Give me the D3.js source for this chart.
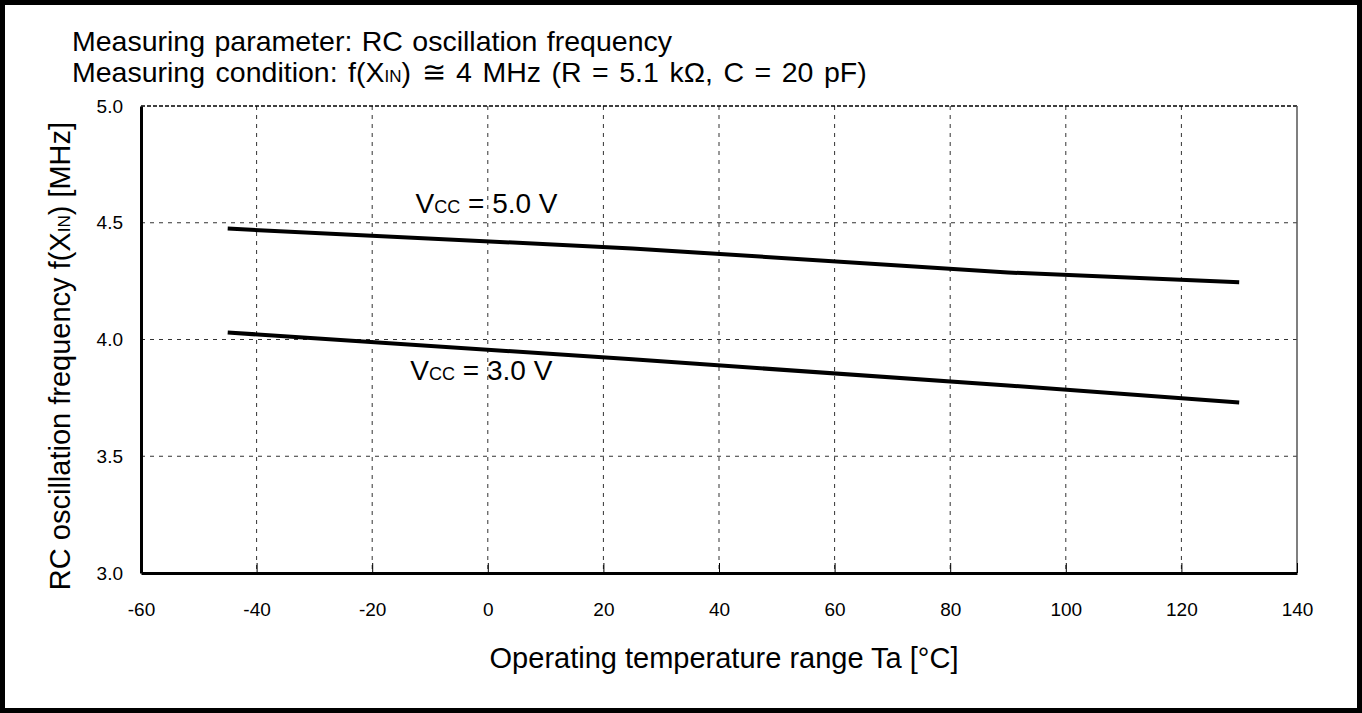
<!DOCTYPE html>
<html><head><meta charset="utf-8">
<script src="https://cdn.jsdelivr.net/npm/d3@7"></script>
<style>body{margin:0;background:#fff;} svg{display:block;} text{font-family:"Liberation Sans",Arial,sans-serif;fill:#000;}</style>
</head><body>
<svg id="c" width="1362" height="713"></svg>
<script>
const xTicks = [-60,-40,-20,0,20,40,60,80,100,120,140];
const yTicks = [3.0,3.5,4.0,4.5,5.0];
const tempsVcc5 = [-45,25,90,130];
const freqVcc5 = [4.475,4.39,4.287,4.245];
const tempsVcc3 = [-45,25,90,130];
const freqVcc3 = [4.03,3.915,3.803,3.73];

const svg = d3.select("#c");
const W=1362,H=713;
svg.append("rect").attr("x",2.5).attr("y",2.5).attr("width",W-5).attr("height",H-5)
  .attr("fill","#fff").attr("stroke","#000").attr("stroke-width",5);

const L=141,R=1297,T=106,B=573;
const x=d3.scaleLinear().domain([-60,140]).range([L,R]);
const y=d3.scaleLinear().domain([3,5]).range([B,T]);

const g=svg.append("g");
// grid
g.selectAll(".vg").data(xTicks.filter(d=>d>-60&&d<140)).join("line")
 .attr("x1",d=>x(d)).attr("x2",d=>x(d)).attr("y1",T).attr("y2",B)
 .attr("stroke","#333").attr("stroke-width",1).attr("stroke-dasharray","4,5");
g.selectAll(".hg").data(yTicks.filter(d=>d>3&&d<5)).join("line")
 .attr("x1",L).attr("x2",R).attr("y1",d=>y(d)).attr("y2",d=>y(d))
 .attr("stroke","#333").attr("stroke-width",1).attr("stroke-dasharray","4,5");
// top & right frame
g.append("line").attr("x1",L).attr("x2",R).attr("y1",T).attr("y2",T)
 .attr("stroke","#000").attr("stroke-width",1.5).attr("stroke-dasharray","4,2");
g.append("line").attr("x1",R).attr("x2",R).attr("y1",T).attr("y2",B)
 .attr("stroke","#555").attr("stroke-width",1.5);

const FF="Liberation Sans, Arial, sans-serif";
// axes
const xAxis=d3.axisBottom(x).tickValues(xTicks).tickSizeInner(-10).tickSizeOuter(0).tickPadding(30).tickFormat(d=>String(d));
const xg=svg.append("g").attr("transform",`translate(0,${B})`).call(xAxis);
xg.select(".domain").attr("stroke","#000").attr("stroke-width",3);
xg.selectAll(".tick line").attr("stroke","#000").attr("stroke-width",1);
xg.selectAll("text").attr("font-size",19).attr("font-family",FF).attr("fill","#000");

const yAxis=d3.axisLeft(y).tickValues(yTicks).tickSize(0).tickPadding(18).tickFormat(d3.format(".1f"));
const yg=svg.append("g").attr("transform",`translate(${L},0)`).call(yAxis);
yg.select(".domain").attr("stroke","#000").attr("stroke-width",3);
yg.selectAll("text").attr("font-size",19).attr("font-family",FF).attr("fill","#000");

// lines
const line=d3.line().x(d=>x(d[0])).y(d=>y(d[1]));
[[tempsVcc5,freqVcc5],[tempsVcc3,freqVcc3]].forEach(([t,f])=>{
  svg.append("path").datum(t.map((d,i)=>[d,f[i]])).attr("d",line)
   .attr("fill","none").attr("stroke","#000").attr("stroke-width",4);
});

// labels
function vlabel(xp,yp,val){
  const t=svg.append("text").attr("x",xp).attr("y",yp).attr("font-size",28);
  t.append("tspan").text("V");
  t.append("tspan").attr("font-size",18).text("CC");
  t.append("tspan").text(" = "+val+" V");
}
vlabel(x(-12.5),213,"5.0");
vlabel(x(-13.4),380,"3.0");

// titles
svg.append("text").attr("x",72).attr("y",51).attr("font-size",28.5).attr("word-spacing",1.5)
  .text("Measuring parameter: RC oscillation frequency");
const t2=svg.append("text").attr("x",72).attr("y",82).attr("font-size",28.5).attr("word-spacing",2.6);
t2.append("tspan").text("Measuring condition: f(X");
t2.append("tspan").attr("font-size",17).text("IN");
t2.append("tspan").text(") \u2245 4 MHz (R = 5.1 k\u03A9, C = 20 pF)");

svg.append("text").attr("x",724).attr("y",668).attr("text-anchor","middle").attr("font-size",29)
  .text("Operating temperature range Ta [°C]");
const yt=svg.append("text").attr("transform",`translate(70,356) rotate(-90)`).attr("text-anchor","middle").attr("font-size",29);
yt.append("tspan").text("RC oscillation frequency f(X");
yt.append("tspan").attr("font-size",17).text("IN");
yt.append("tspan").text(")  [MHz]");
</script>
</body></html>
